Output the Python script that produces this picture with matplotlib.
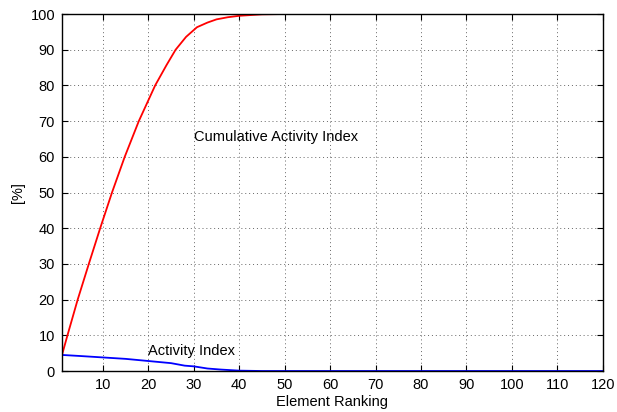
import matplotlib.pyplot as plt
import numpy as np

# element ranking samples and the two curves (in %)
rank_cum = [1, 2.2, 4.45, 6.9, 9.4, 12.0, 14.8, 17.9, 21.5, 24, 26.0, 28.3, 30.7, 33, 35, 37.5, 40, 45, 50, 60, 120]
cum_index = [4.5, 10, 20, 30, 40, 50, 60, 70, 80, 85.7, 90, 93.6, 96.3, 97.6, 98.5, 99.1, 99.5, 99.9, 100, 100, 100]

rank_act = [1, 5, 10, 15, 20, 25, 28, 30, 33, 36, 40, 45, 120]
act_index = [4.5, 4.2, 3.8, 3.4, 2.8, 2.2, 1.5, 1.3, 0.7, 0.4, 0.1, 0.0, 0.0]

plt.rcParams['font.family'] = ['Liberation Sans', 'DejaVu Sans']

fig = plt.figure(figsize=(6.17, 4.12), dpi=100)
ax = fig.add_axes([0.1005, 0.0995, 0.8765, 0.8665])

ax.plot(rank_cum, cum_index, color='red', linewidth=1.3)
ax.plot(rank_act, act_index, color='blue', linewidth=1.3)

ax.text(30, 64.3, 'Cumulative Activity Index', fontsize=10.5)
ax.text(20, 4.5, 'Activity Index', fontsize=10.5)

ax.set_xlim(1, 120)
ax.set_ylim(0, 100)
ax.set_xticks(np.arange(10, 121, 10))
ax.set_yticks(np.arange(0, 101, 10))
ax.tick_params(direction='in', top=True, right=True, labelsize=10.5, length=4)
ax.tick_params(axis='x', pad=5)
ax.tick_params(axis='y', pad=5)
ax.grid(True, linestyle=(0, (1, 3)), color='#666666', linewidth=0.7)
ax.set_xlabel('Element Ranking', fontsize=10.5, labelpad=2)
ax.set_ylabel('[%]', fontsize=10.5, labelpad=4)
for s in ax.spines.values():
    s.set_linewidth(1.0)

fig.savefig('out.png', dpi=100)
